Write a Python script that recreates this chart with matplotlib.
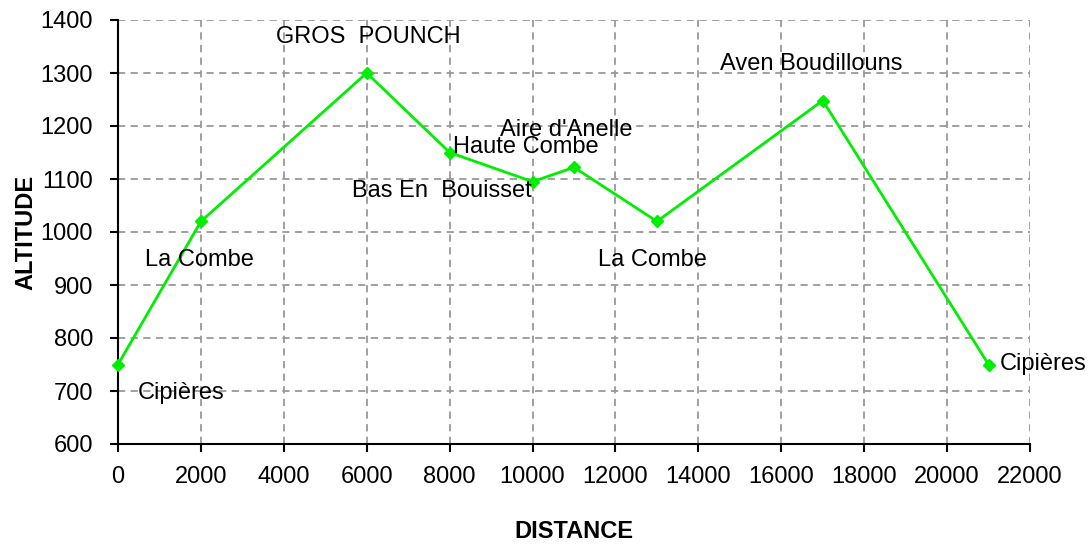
import matplotlib.pyplot as plt

plt.rcParams['font.family'] = ['Liberation Sans', 'DejaVu Sans']

# profile points
distance = [0, 2000, 6000, 8000, 10000, 11000, 13000, 17000, 21000]
altitude = [750, 1020, 1300, 1150, 1095, 1122, 1020, 1248, 750]

# place names and where their text sits (data coords)
names = ['Cipières', 'La Combe', 'GROS  POUNCH', 'Haute Combe', 'Bas En  Bouisset',
         'Aire d\'Anelle', 'La Combe', 'Aven Boudillouns', 'Cipières']
name_x = [480, 650, 6030, 8080, 5645, 9215, 11580, 14520, 21280]
name_y = [696, 947, 1368, 1160, 1077, 1192, 947, 1317, 751]
name_ha = ['left', 'left', 'center', 'left', 'left', 'left', 'left', 'left', 'left']

fs = 17

fig = plt.figure(figsize=(10.89, 5.44), dpi=100)
ax = fig.add_axes([118 / 1089, 100 / 544, 912 / 1089, 424 / 544])

ax.plot(distance, altitude, '-D', color='#00ee00', markersize=6.5, linewidth=2, clip_on=False, zorder=3)

for t, x, y, ha in zip(names, name_x, name_y, name_ha):
    ax.text(x, y, t, ha=ha, va='center', fontsize=fs, zorder=4)

ax.set_xlim(0, 22000)
ax.set_ylim(600, 1400)
ax.set_xticks(range(0, 22001, 2000))
ax.set_yticks(range(600, 1401, 100))
ax.tick_params(axis='y', labelsize=fs, length=6, width=1.5, pad=12)
ax.tick_params(axis='x', labelsize=fs, length=6, width=1.5, pad=10)
ax.grid(color='#999999', linestyle=(0, (4, 3)), linewidth=1.3)
ax.set_axisbelow(True)
for s in ['top', 'right']:
    ax.spines[s].set_visible(False)
for s in ['left', 'bottom']:
    ax.spines[s].set_linewidth(1.5)

ax.set_xlabel('DISTANCE', fontsize=fs, fontweight='bold', labelpad=23)
ax.set_ylabel('ALTITUDE', fontsize=fs, fontweight='bold', labelpad=2)

fig.savefig('out.png')
